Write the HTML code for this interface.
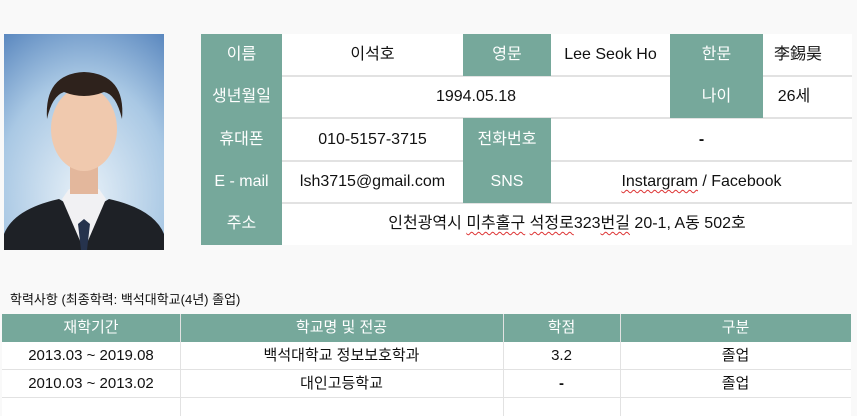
<!DOCTYPE html>
<html><head><meta charset="utf-8">
<style>
body{margin:0;width:857px;height:416px;background:#f9f9f9;overflow:hidden;font-family:"Liberation Sans","Noto Sans CJK KR",sans-serif;position:relative}
.c{position:absolute;display:flex;align-items:center;justify-content:center;font-size:16px;line-height:20px;color:#111;box-sizing:border-box}
.c>span,.c{white-space:nowrap}
.g{background:#76a89b;color:#fff}
.w{background:#fff}
.hl{position:absolute;height:2px;background:#e2e2e2}
.t{font-size:15px}
.u{text-decoration:underline wavy #d33;text-decoration-thickness:1px;text-underline-offset:3px}
</style></head><body>
<svg style="position:absolute;left:4px;top:34px" width="160" height="216" viewBox="0 0 160 216">
<defs><radialGradient id="bg" cx="0.5" cy="0.75" r="0.9"><stop offset="0" stop-color="#e8f1f8"/><stop offset="0.6" stop-color="#a9c8e4"/><stop offset="1" stop-color="#5b88bf"/></radialGradient></defs>
<rect width="160" height="216" fill="url(#bg)"/>
<path d="M0 200 Q10 175 55 165 L80 180 L105 165 Q150 175 160 200 L160 216 L0 216Z" fill="#1e2126"/>
<path d="M58 165 L80 216 L102 165 L95 155 L65 155Z" fill="#f1f1f3"/>
<path d="M74 190 L80 185 L86 190 L83 216 L77 216Z" fill="#26334d"/>
<rect x="66" y="120" width="28" height="40" fill="#e3b79c"/>
<ellipse cx="80" cy="95" rx="33" ry="42" fill="#f0c9ae"/>
<path d="M43 85 Q40 40 80 38 Q122 40 118 85 Q112 60 100 58 Q80 66 60 58 Q48 62 43 85Z" fill="#2e221c"/>
</svg>
<div class="c w" style="left:282px;top:34px;width:570px;height:211px"></div>
<div class="hl" style="left:282px;top:75px;width:570px"></div>
<div class="hl" style="left:282px;top:117px;width:570px"></div>
<div class="hl" style="left:282px;top:160px;width:570px"></div>
<div class="hl" style="left:282px;top:202px;width:570px"></div>
<div class="c g" style="left:201px;top:34px;width:81px;height:211px"></div>
<div class="c g" style="left:201px;top:34px;width:81px;height:42px">이름</div>
<div class="c g" style="left:201px;top:76px;width:81px;height:42px">생년월일</div>
<div class="c g" style="left:201px;top:118px;width:81px;height:43px">휴대폰</div>
<div class="c g" style="left:201px;top:161px;width:81px;height:42px">E - mail</div>
<div class="c g" style="left:201px;top:203px;width:81px;height:42px">주소</div>
<div class="c" style="left:282px;top:34px;width:181px;height:42px">이석호</div>
<div class="c g" style="left:463px;top:34px;width:88px;height:42px">영문</div>
<div class="c" style="left:551px;top:34px;width:119px;height:42px">Lee Seok Ho</div>
<div class="c g" style="left:670px;top:34px;width:93px;height:42px">한문</div>
<div class="c" style="left:763px;top:34px;width:70px;height:42px">李錫昊</div>
<div class="c" style="left:282px;top:76px;width:388px;height:42px">1994.05.18</div>
<div class="c g" style="left:670px;top:76px;width:93px;height:42px">나이</div>
<div class="c" style="left:763px;top:76px;width:62px;height:42px">26세</div>
<div class="c" style="left:282px;top:118px;width:181px;height:43px">010-5157-3715</div>
<div class="c g" style="left:463px;top:118px;width:88px;height:43px">전화번호</div>
<div class="c" style="left:551px;top:118px;width:301px;height:43px;font-weight:bold">-</div>
<div class="c" style="left:282px;top:161px;width:181px;height:42px">lsh3715@gmail.com</div>
<div class="c g" style="left:463px;top:161px;width:88px;height:42px">SNS</div>
<div class="c" style="left:551px;top:161px;width:301px;height:42px"><span class="u">Instargram</span>&nbsp;/ Facebook</div>
<div class="c" style="left:282px;top:203px;width:570px;height:42px">인천광역시&nbsp;<span class="u">미추홀구</span>&nbsp;<span class="u">석정로</span>323<span class="u">번길</span>&nbsp;20-1, A동 502호</div>

<div class="c" style="left:10px;top:290px;height:20px;font-size:13px;justify-content:flex-start">학력사항 (최종학력: 백석대학교(4년) 졸업)</div>
<div class="c w" style="left:2px;top:314px;width:849px;height:102px"></div>
<div class="c g t" style="left:2px;top:314px;width:849px;height:28px"></div>
<div class="hl" style="left:2px;top:369px;width:849px;height:1px"></div>
<div class="hl" style="left:2px;top:397px;width:849px;height:1px"></div>
<div style="position:absolute;left:180px;top:314px;width:1px;height:102px;background:#e2e2e2"></div>
<div style="position:absolute;left:503px;top:314px;width:1px;height:102px;background:#e2e2e2"></div>
<div style="position:absolute;left:620px;top:314px;width:1px;height:102px;background:#e2e2e2"></div>
<div class="c t" style="left:2px;top:314px;width:178px;height:28px;color:#fff">재학기간</div>
<div class="c t" style="left:180px;top:314px;width:323px;height:28px;color:#fff">학교명 및 전공</div>
<div class="c t" style="left:503px;top:314px;width:117px;height:28px;color:#fff">학점</div>
<div class="c t" style="left:620px;top:314px;width:231px;height:28px;color:#fff">구분</div>
<div class="c t" style="left:2px;top:342px;width:178px;height:28px">2013.03 ~ 2019.08</div>
<div class="c t" style="left:180px;top:342px;width:323px;height:28px">백석대학교 정보보호학과</div>
<div class="c t" style="left:503px;top:342px;width:117px;height:28px">3.2</div>
<div class="c t" style="left:620px;top:342px;width:231px;height:28px">졸업</div>
<div class="c t" style="left:2px;top:370px;width:178px;height:28px">2010.03 ~ 2013.02</div>
<div class="c t" style="left:180px;top:370px;width:323px;height:28px">대인고등학교</div>
<div class="c t" style="left:503px;top:370px;width:117px;height:28px;font-weight:bold">-</div>
<div class="c t" style="left:620px;top:370px;width:231px;height:28px">졸업</div>
</body></html>
